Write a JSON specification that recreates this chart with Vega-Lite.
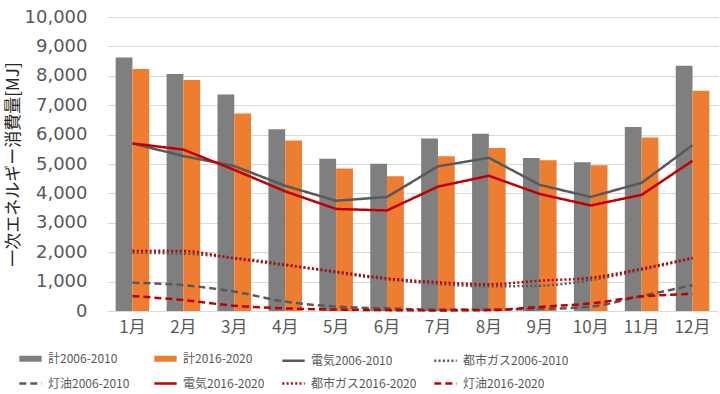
{
  "$schema": "https://vega.github.io/schema/vega-lite/v6.json",
  "width": 611,
  "height": 294,
  "autosize": "none",
  "padding": {"left": 107, "top": 17, "right": 2, "bottom": 83},
  "background": "white",
  "config": {
    "font": "Noto Sans CJK JP",
    "view": {"stroke": null},
    "axis": {"labelColor": "#595959", "labelFont": "Noto Sans CJK JP", "titleFont": "Noto Sans CJK JP"}
  },
  "data": {"values": [
    {"month": "1月", "series": "計2006-2010", "value": 8620},
    {"month": "2月", "series": "計2006-2010", "value": 8060},
    {"month": "3月", "series": "計2006-2010", "value": 7360},
    {"month": "4月", "series": "計2006-2010", "value": 6180},
    {"month": "5月", "series": "計2006-2010", "value": 5180},
    {"month": "6月", "series": "計2006-2010", "value": 5010},
    {"month": "7月", "series": "計2006-2010", "value": 5870},
    {"month": "8月", "series": "計2006-2010", "value": 6030},
    {"month": "9月", "series": "計2006-2010", "value": 5200},
    {"month": "10月", "series": "計2006-2010", "value": 5060},
    {"month": "11月", "series": "計2006-2010", "value": 6260},
    {"month": "12月", "series": "計2006-2010", "value": 8340},
    {"month": "1月", "series": "計2016-2020", "value": 8230},
    {"month": "2月", "series": "計2016-2020", "value": 7860},
    {"month": "3月", "series": "計2016-2020", "value": 6720},
    {"month": "4月", "series": "計2016-2020", "value": 5800},
    {"month": "5月", "series": "計2016-2020", "value": 4850},
    {"month": "6月", "series": "計2016-2020", "value": 4580},
    {"month": "7月", "series": "計2016-2020", "value": 5260},
    {"month": "8月", "series": "計2016-2020", "value": 5540},
    {"month": "9月", "series": "計2016-2020", "value": 5130},
    {"month": "10月", "series": "計2016-2020", "value": 4960},
    {"month": "11月", "series": "計2016-2020", "value": 5900},
    {"month": "12月", "series": "計2016-2020", "value": 7490},
    {"month": "1月", "series": "電気2006-2010", "value": 5700},
    {"month": "2月", "series": "電気2006-2010", "value": 5270},
    {"month": "3月", "series": "電気2006-2010", "value": 4930},
    {"month": "4月", "series": "電気2006-2010", "value": 4260},
    {"month": "5月", "series": "電気2006-2010", "value": 3750},
    {"month": "6月", "series": "電気2006-2010", "value": 3880},
    {"month": "7月", "series": "電気2006-2010", "value": 4920},
    {"month": "8月", "series": "電気2006-2010", "value": 5210},
    {"month": "9月", "series": "電気2006-2010", "value": 4290},
    {"month": "10月", "series": "電気2006-2010", "value": 3880},
    {"month": "11月", "series": "電気2006-2010", "value": 4360},
    {"month": "12月", "series": "電気2006-2010", "value": 5640},
    {"month": "1月", "series": "電気2016-2020", "value": 5700},
    {"month": "2月", "series": "電気2016-2020", "value": 5490},
    {"month": "3月", "series": "電気2016-2020", "value": 4800},
    {"month": "4月", "series": "電気2016-2020", "value": 4070},
    {"month": "5月", "series": "電気2016-2020", "value": 3470},
    {"month": "6月", "series": "電気2016-2020", "value": 3420},
    {"month": "7月", "series": "電気2016-2020", "value": 4230},
    {"month": "8月", "series": "電気2016-2020", "value": 4600},
    {"month": "9月", "series": "電気2016-2020", "value": 3980},
    {"month": "10月", "series": "電気2016-2020", "value": 3590},
    {"month": "11月", "series": "電気2016-2020", "value": 3950},
    {"month": "12月", "series": "電気2016-2020", "value": 5110},
    {"month": "1月", "series": "都市ガス2006-2010", "value": 1980},
    {"month": "2月", "series": "都市ガス2006-2010", "value": 1950},
    {"month": "3月", "series": "都市ガス2006-2010", "value": 1810},
    {"month": "4月", "series": "都市ガス2006-2010", "value": 1590},
    {"month": "5月", "series": "都市ガス2006-2010", "value": 1300},
    {"month": "6月", "series": "都市ガス2006-2010", "value": 1080},
    {"month": "7月", "series": "都市ガス2006-2010", "value": 920},
    {"month": "8月", "series": "都市ガス2006-2010", "value": 840},
    {"month": "9月", "series": "都市ガス2006-2010", "value": 860},
    {"month": "10月", "series": "都市ガス2006-2010", "value": 1050},
    {"month": "11月", "series": "都市ガス2006-2010", "value": 1400},
    {"month": "12月", "series": "都市ガス2006-2010", "value": 1790},
    {"month": "1月", "series": "都市ガス2016-2020", "value": 2050},
    {"month": "2月", "series": "都市ガス2016-2020", "value": 2040},
    {"month": "3月", "series": "都市ガス2016-2020", "value": 1790},
    {"month": "4月", "series": "都市ガス2016-2020", "value": 1560},
    {"month": "5月", "series": "都市ガス2016-2020", "value": 1340},
    {"month": "6月", "series": "都市ガス2016-2020", "value": 1110},
    {"month": "7月", "series": "都市ガス2016-2020", "value": 980},
    {"month": "8月", "series": "都市ガス2016-2020", "value": 910},
    {"month": "9月", "series": "都市ガス2016-2020", "value": 1030},
    {"month": "10月", "series": "都市ガス2016-2020", "value": 1130},
    {"month": "11月", "series": "都市ガス2016-2020", "value": 1440},
    {"month": "12月", "series": "都市ガス2016-2020", "value": 1810},
    {"month": "1月", "series": "灯油2006-2010", "value": 960},
    {"month": "2月", "series": "灯油2006-2010", "value": 880},
    {"month": "3月", "series": "灯油2006-2010", "value": 660},
    {"month": "4月", "series": "灯油2006-2010", "value": 320},
    {"month": "5月", "series": "灯油2006-2010", "value": 150},
    {"month": "6月", "series": "灯油2006-2010", "value": 90},
    {"month": "7月", "series": "灯油2006-2010", "value": 50},
    {"month": "8月", "series": "灯油2006-2010", "value": 50},
    {"month": "9月", "series": "灯油2006-2010", "value": 70},
    {"month": "10月", "series": "灯油2006-2010", "value": 150},
    {"month": "11月", "series": "灯油2006-2010", "value": 510},
    {"month": "12月", "series": "灯油2006-2010", "value": 880},
    {"month": "1月", "series": "灯油2016-2020", "value": 510},
    {"month": "2月", "series": "灯油2016-2020", "value": 370},
    {"month": "3月", "series": "灯油2016-2020", "value": 180},
    {"month": "4月", "series": "灯油2016-2020", "value": 90},
    {"month": "5月", "series": "灯油2016-2020", "value": 50},
    {"month": "6月", "series": "灯油2016-2020", "value": 30},
    {"month": "7月", "series": "灯油2016-2020", "value": 20},
    {"month": "8月", "series": "灯油2016-2020", "value": 30},
    {"month": "9月", "series": "灯油2016-2020", "value": 140},
    {"month": "10月", "series": "灯油2016-2020", "value": 260},
    {"month": "11月", "series": "灯油2016-2020", "value": 490},
    {"month": "12月", "series": "灯油2016-2020", "value": 580}
  ]},
  "encoding": {
    "x": {
      "field": "month", "type": "nominal",
      "sort": ["1月","2月","3月","4月","5月","6月","7月","8月","9月","10月","11月","12月"],
      "scale": {"paddingInner": 0.34, "paddingOuter": 0.17},
      "axis": {"title": null, "labelAngle": 0, "labelFontSize": 17, "labelPadding": 8, "ticks": false, "domain": false}
    },
    "y": {
      "field": "value", "type": "quantitative",
      "scale": {"domain": [0, 10000], "nice": false},
      "axis": {
        "title": "一次エネルギー消費量[MJ]", "titleFontSize": 17, "titleFontWeight": "normal", "titleColor": "#262626", "titlePadding": 2,
        "values": [0,1000,2000,3000,4000,5000,6000,7000,8000,9000,10000], "format": ",d",
        "labelFont": "DejaVu Sans", "labelFontSize": 18, "labelPadding": 20, "ticks": false, "domain": false,
        "gridColor": "#D9D9D9", "gridWidth": 1
      }
    },
    "color": {
      "field": "series", "type": "nominal",
      "scale": {
        "domain": ["計2006-2010","計2016-2020","電気2006-2010","都市ガス2006-2010","灯油2006-2010","電気2016-2020","都市ガス2016-2020","灯油2016-2020"],
        "range": ["#7F7F7F","#ED7D31","#595959","#595959","#595959","#C00000","#C00000","#C00000"]
      },
      "legend": {
        "title": null, "orient": "none", "legendX": -91, "legendY": 327, "direction": "horizontal", "columns": 4,
        "gridAlign": "each", "columnPadding": 12, "rowPadding": 0,
        "symbolType": "stroke", "symbolSize": 500,
        "labelFontSize": 12, "labelColor": "#595959", "labelOffset": 3, "labelLimit": 200
      }
    },
    "strokeDash": {"field": "series", "type": "nominal", "scale": {
      "type": "ordinal",
      "domain": ["計2006-2010","計2016-2020","電気2006-2010","都市ガス2006-2010","灯油2006-2010","電気2016-2020","都市ガス2016-2020","灯油2016-2020"],
      "range": [[1,0],[1,0],[1,0],[2,2.3],[7,4],[1,0],[2,2.3],[7,4]]}},
    "strokeWidth": {"field": "series", "type": "nominal", "scale": {
      "type": "ordinal",
      "domain": ["計2006-2010","計2016-2020","電気2006-2010","都市ガス2006-2010","灯油2006-2010","電気2016-2020","都市ガス2016-2020","灯油2016-2020"],
      "range": [6,6,2.5,2.5,2.5,2.5,2.5,2.5]}}
  },
  "layer": [
    {
      "transform": [{"filter": {"field": "series", "oneOf": ["計2006-2010","計2016-2020"]}}],
      "mark": {"type": "bar", "strokeOpacity": 0},
      "encoding": {
        "xOffset": {"field": "series", "type": "nominal", "sort": ["計2006-2010","計2016-2020"], "scale": {"paddingInner": 0, "paddingOuter": 0}}
      }
    },
    {
      "transform": [{"filter": {"field": "series", "oneOf": ["電気2006-2010","電気2016-2020"]}}],
      "mark": {"type": "line"}
    },
    {
      "transform": [{"filter": {"field": "series", "oneOf": ["都市ガス2006-2010","都市ガス2016-2020","灯油2006-2010","灯油2016-2020"]}}],
      "mark": {"type": "line", "interpolate": "monotone"}
    }
  ]
}
